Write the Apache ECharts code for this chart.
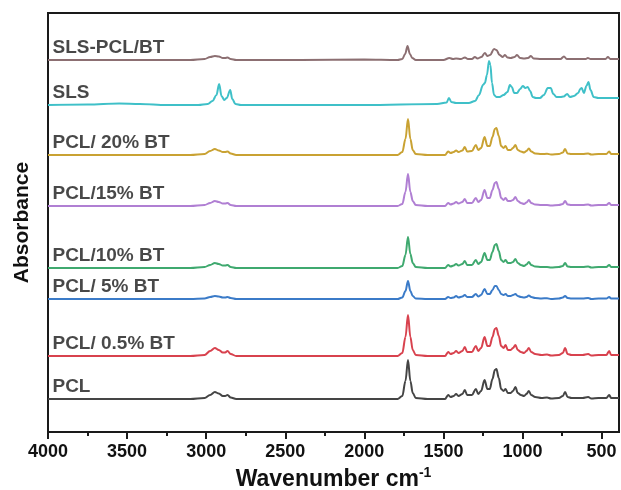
<!DOCTYPE html>
<html>
<head>
<meta charset="utf-8">
<script src="https://cdn.jsdelivr.net/npm/echarts@6/dist/echarts.min.js"></script>
<style>html,body{margin:0;padding:0;background:#fff}#c{width:621px;height:490px}</style>
</head>
<body>
<div id="c"></div>
<script>
// Sample names (top to bottom) and vertical stacking offsets (absorbance units)
var names = ['SLS-PCL/BT', 'SLS', 'PCL/ 20% BT', 'PCL/15% BT', 'PCL/10% BT', 'PCL/ 5% BT', 'PCL/ 0.5% BT', 'PCL'];
var offsets = [3.72, 3.27, 2.77, 2.26, 1.64, 1.33, 0.76, 0.33];
var colors = ['#8c6f72', '#3fc0c8', '#c9a233', '#b07fd3', '#3fa96f', '#3b7bc8', '#d8424e', '#454545'];
var majorTicks = [4000, 3500, 3000, 2500, 2000, 1500, 1000, 500];
var minorTicks = [3750, 3250, 2750, 2250, 1750, 1250, 750];

// Spectra: [wavenumber (cm-1), absorbance]
var slsPclBt = [[4000,0],[3100,0],[3010,0.01],[2975,0.03],[2945,0.04],[2920,0.035],[2895,0.02],[2880,0.02],[2865,0.025],[2845,0.01],[2810,0],[2400,0],[2000,0.005],[1790,0],[1760,0.01],[1742,0.06],[1727,0.14],[1712,0.06],[1697,0.02],[1675,0],[1600,0],[1500,0],[1462,0.02],[1440,0.01],[1420,0.015],[1390,0.01],[1364,0.025],[1345,0.01],[1320,0.01],[1301,0.03],[1285,0.015],[1260,0.03],[1238,0.07],[1222,0.04],[1205,0.05],[1180,0.11],[1165,0.1],[1145,0.05],[1125,0.03],[1111,0.05],[1095,0.025],[1075,0.02],[1050,0.03],[1035,0.05],[1015,0.02],[990,0.015],[965,0.02],[947,0.04],[930,0.015],[880,0.01],[800,0.01],[760,0.01],[738,0.035],[720,0.01],[650,0.01],[600,0.01],[587,0.02],[570,0.01],[500,0.01],[475,0.01],[460,0.03],[445,0.01],[400,0.01],[390,0.01]];
var sls = [[4000,0],[3750,0.005],[3550,0.015],[3420,0.01],[3250,0],[3050,0],[2990,0.01],[2960,0.04],[2935,0.1],[2918,0.21],[2903,0.09],[2885,0.05],[2870,0.07],[2848,0.15],[2835,0.06],[2815,0.01],[2780,0],[2000,0],[1540,0.01],[1480,0.025],[1465,0.07],[1450,0.03],[1420,0.02],[1340,0.02],[1300,0.04],[1275,0.1],[1250,0.2],[1238,0.22],[1225,0.3],[1212,0.44],[1203,0.4],[1193,0.22],[1180,0.1],[1165,0.08],[1145,0.08],[1120,0.1],[1095,0.13],[1080,0.2],[1068,0.18],[1052,0.12],[1035,0.12],[1015,0.16],[998,0.19],[982,0.17],[967,0.18],[952,0.14],[935,0.08],[915,0.07],[890,0.07],[865,0.1],[840,0.17],[822,0.17],[805,0.11],[785,0.08],[760,0.08],[740,0.085],[718,0.11],[700,0.08],[675,0.09],[648,0.12],[635,0.16],[626,0.17],[612,0.12],[596,0.19],[583,0.23],[570,0.15],[550,0.08],[520,0.07],[450,0.07],[390,0.07]];
var pcl20 = [[4000,0],[3100,0],[3010,0.01],[2975,0.04],[2945,0.06],[2920,0.045],[2895,0.03],[2880,0.03],[2865,0.035],[2845,0.015],[2810,0],[1790,0],[1760,0.03],[1740,0.16],[1724,0.36],[1709,0.16],[1694,0.05],[1675,0.01],[1600,0],[1490,0],[1470,0.035],[1455,0.02],[1435,0.03],[1420,0.045],[1405,0.03],[1380,0.045],[1365,0.08],[1350,0.035],[1320,0.04],[1295,0.1],[1280,0.05],[1262,0.07],[1240,0.18],[1222,0.09],[1207,0.09],[1190,0.18],[1175,0.26],[1165,0.27],[1150,0.19],[1135,0.09],[1120,0.07],[1107,0.09],[1093,0.05],[1075,0.05],[1060,0.07],[1045,0.1],[1030,0.05],[1010,0.035],[990,0.025],[975,0.04],[960,0.065],[945,0.035],[920,0.015],[880,0.01],[845,0.012],[820,0.005],[770,0.01],[745,0.025],[731,0.06],[715,0.015],[690,0.01],[620,0.01],[585,0.015],[565,0.005],[520,0.01],[470,0.01],[452,0.035],[440,0.01],[400,0.01],[390,0.01]];
var pcl15 = [[4000,0],[3100,0],[3010,0.01],[2975,0.03],[2945,0.05],[2920,0.04],[2895,0.025],[2880,0.025],[2865,0.03],[2845,0.01],[2810,0],[1790,0],[1760,0.02],[1740,0.14],[1724,0.32],[1709,0.14],[1694,0.05],[1675,0.01],[1600,0],[1490,0],[1470,0.03],[1455,0.015],[1435,0.025],[1420,0.04],[1405,0.025],[1380,0.04],[1365,0.07],[1350,0.03],[1320,0.03],[1295,0.08],[1280,0.04],[1262,0.06],[1240,0.16],[1222,0.08],[1207,0.08],[1190,0.16],[1175,0.23],[1165,0.24],[1150,0.17],[1135,0.08],[1120,0.06],[1107,0.08],[1093,0.05],[1075,0.05],[1060,0.06],[1045,0.09],[1030,0.05],[1010,0.03],[990,0.02],[975,0.035],[960,0.06],[945,0.03],[920,0.015],[880,0.01],[845,0.01],[820,0.005],[770,0.01],[745,0.02],[731,0.05],[715,0.015],[690,0.01],[620,0.01],[585,0.015],[565,0.005],[520,0.01],[470,0.01],[452,0.03],[440,0.01],[400,0.01],[390,0.01]];
var pcl10 = [[4000,0],[3100,0],[3010,0.01],[2975,0.03],[2945,0.05],[2920,0.04],[2895,0.025],[2880,0.025],[2865,0.03],[2845,0.01],[2810,0],[1790,0],[1760,0.02],[1740,0.13],[1724,0.31],[1709,0.14],[1694,0.05],[1675,0.01],[1600,0],[1490,0],[1470,0.03],[1455,0.015],[1435,0.025],[1420,0.04],[1405,0.025],[1380,0.04],[1365,0.07],[1350,0.03],[1320,0.03],[1295,0.08],[1280,0.04],[1262,0.06],[1240,0.15],[1222,0.08],[1207,0.08],[1190,0.16],[1175,0.23],[1165,0.24],[1150,0.17],[1135,0.08],[1120,0.06],[1107,0.08],[1093,0.05],[1075,0.05],[1060,0.06],[1045,0.09],[1030,0.05],[1010,0.03],[990,0.02],[975,0.035],[960,0.06],[945,0.03],[920,0.015],[880,0.01],[845,0.01],[820,0.005],[770,0.01],[745,0.02],[731,0.05],[715,0.015],[690,0.01],[620,0.01],[585,0.015],[565,0.005],[520,0.01],[470,0.01],[452,0.03],[440,0.01],[400,0.01],[390,0.01]];
var pcl5 = [[4000,0],[3100,0],[3010,0.005],[2975,0.02],[2945,0.03],[2920,0.025],[2895,0.015],[2880,0.015],[2865,0.02],[2845,0.01],[2810,0],[1790,0],[1760,0.015],[1740,0.08],[1724,0.18],[1709,0.08],[1694,0.03],[1675,0.005],[1600,0],[1490,0],[1470,0.02],[1455,0.01],[1435,0.015],[1420,0.03],[1405,0.015],[1380,0.025],[1365,0.04],[1350,0.02],[1320,0.02],[1295,0.05],[1280,0.025],[1262,0.04],[1240,0.1],[1222,0.05],[1207,0.05],[1190,0.09],[1175,0.13],[1165,0.13],[1150,0.09],[1135,0.05],[1120,0.04],[1107,0.05],[1093,0.03],[1075,0.03],[1060,0.04],[1045,0.05],[1030,0.03],[1010,0.02],[990,0.015],[975,0.02],[960,0.035],[945,0.02],[920,0.01],[880,0.005],[845,0.008],[820,0],[770,0.005],[745,0.015],[731,0.03],[715,0.01],[690,0.005],[620,0.005],[585,0.01],[565,0],[520,0.005],[470,0.005],[452,0.02],[440,0.005],[400,0.005],[390,0.005]];
var pcl05 = [[4000,0],[3100,0],[3010,0.01],[2975,0.05],[2945,0.08],[2920,0.06],[2895,0.035],[2880,0.035],[2865,0.05],[2845,0.02],[2810,0],[1790,0],[1760,0.03],[1740,0.19],[1724,0.41],[1709,0.19],[1694,0.06],[1675,0.01],[1600,0],[1490,0],[1470,0.04],[1455,0.02],[1435,0.03],[1420,0.05],[1405,0.03],[1380,0.05],[1365,0.09],[1350,0.04],[1320,0.04],[1295,0.1],[1280,0.05],[1262,0.08],[1240,0.19],[1222,0.1],[1207,0.1],[1190,0.19],[1175,0.27],[1165,0.28],[1150,0.2],[1135,0.1],[1120,0.08],[1107,0.11],[1093,0.06],[1075,0.06],[1060,0.08],[1045,0.11],[1030,0.06],[1010,0.04],[990,0.03],[975,0.05],[960,0.08],[945,0.04],[920,0.02],[880,0.01],[845,0.015],[820,0.005],[770,0.01],[745,0.03],[731,0.08],[715,0.02],[690,0.01],[620,0.01],[585,0.02],[565,0.005],[520,0.01],[470,0.01],[452,0.05],[440,0.01],[400,0.01],[390,0.01]];
var pcl = [[4000,0],[3100,0],[3010,0.01],[2975,0.04],[2945,0.07],[2920,0.055],[2895,0.03],[2880,0.03],[2865,0.04],[2845,0.015],[2810,0],[1790,0],[1760,0.03],[1740,0.18],[1724,0.39],[1709,0.18],[1694,0.06],[1675,0.01],[1600,0],[1490,0],[1470,0.04],[1455,0.02],[1435,0.03],[1420,0.05],[1405,0.03],[1380,0.05],[1365,0.09],[1350,0.04],[1320,0.04],[1295,0.1],[1280,0.05],[1262,0.08],[1240,0.19],[1222,0.1],[1207,0.1],[1190,0.2],[1175,0.29],[1165,0.3],[1150,0.21],[1135,0.1],[1120,0.08],[1107,0.1],[1093,0.06],[1075,0.06],[1060,0.08],[1045,0.12],[1030,0.06],[1010,0.04],[990,0.03],[975,0.05],[960,0.08],[945,0.04],[920,0.02],[880,0.01],[845,0.015],[820,0.005],[770,0.01],[745,0.03],[731,0.07],[715,0.02],[690,0.01],[620,0.01],[585,0.02],[565,0.005],[520,0.01],[470,0.01],[452,0.04],[440,0.01],[400,0.01],[390,0.01]];

var spectra = [slsPclBt, sls, pcl20, pcl15, pcl10, pcl5, pcl05, pcl];
var labelX = 3975, labelLift = 0.12;

var FONT = '"Liberation Sans", Arial, Helvetica, sans-serif';
var chart = echarts.init(document.getElementById('c'), null, {renderer: 'canvas'});

var series = spectra.map(function (s, i) {
  return {
    type: 'line', name: names[i], xAxisIndex: 0, yAxisIndex: 0,
    data: s.map(function (p) { return [p[0], p[1] + offsets[i]]; }),
    showSymbol: false, symbol: 'none', smooth: 0.35, smoothMonotone: 'x',
    lineStyle: {color: colors[i], width: 2}, itemStyle: {color: colors[i]},
    silent: true, animation: false, z: 3
  };
});
series.push({
  type: 'scatter', xAxisIndex: 0, yAxisIndex: 0, silent: true, animation: false,
  symbolSize: 1, itemStyle: {color: 'rgba(0,0,0,0)'},
  data: names.map(function (n, i) { return {name: n, value: [labelX, offsets[i] + labelLift]}; }),
  label: {show: true, position: 'right', distance: 0, formatter: '{b}',
    fontFamily: FONT, fontWeight: 'bold', fontSize: 19, color: '#1a1a1a'},
  z: 5
});

chart.setOption({
  animation: false,
  backgroundColor: '#fff',
  grid: {left: 48, right: 2, top: 13, bottom: 58, outerBoundsMode: 'none', containLabel: false,
    show: true, borderColor: '#1a1a1a', borderWidth: 2, backgroundColor: 'transparent'},
  xAxis: [{
    type: 'value', inverse: true, min: 390, max: 4000, position: 'bottom',
    name: 'Wavenumber cm{sup|-1}', nameLocation: 'middle', nameGap: 32,
    nameTextStyle: {fontFamily: FONT, fontWeight: 'bold', fontSize: 23, color: '#111',
      rich: {sup: {fontFamily: FONT, fontWeight: 'bold', fontSize: 14, color: '#111', verticalAlign: 'top', padding: [0, 0, 13, 0]}}},
    axisLine: {show: true, onZero: false, lineStyle: {color: '#1a1a1a', width: 2}},
    axisTick: {show: true, inside: false, length: 7, customValues: majorTicks, lineStyle: {color: '#1a1a1a', width: 2}},
    axisLabel: {show: true, margin: 11, customValues: majorTicks, formatter: function (v) { return String(v); },
      fontFamily: FONT, fontWeight: 'bold', fontSize: 18, color: '#111'},
    splitLine: {show: false}
  }, {
    type: 'value', inverse: true, min: 390, max: 4000, position: 'bottom', gridIndex: 0,
    axisLine: {show: false},
    axisTick: {show: true, inside: false, length: 4, customValues: minorTicks, lineStyle: {color: '#1a1a1a', width: 2}},
    axisLabel: {show: false},
    splitLine: {show: false}
  }],
  yAxis: {
    type: 'value', min: 0, max: 4.19,
    name: 'Absorbance', nameLocation: 'middle', nameGap: 15, nameRotate: 90,
    nameTextStyle: {fontFamily: FONT, fontWeight: 'bold', fontSize: 21, color: '#111'},
    axisLine: {show: true, lineStyle: {color: '#1a1a1a', width: 2}},
    axisTick: {show: false}, axisLabel: {show: false}, splitLine: {show: false}
  },
  series: series
});
</script>
</body>
</html>
